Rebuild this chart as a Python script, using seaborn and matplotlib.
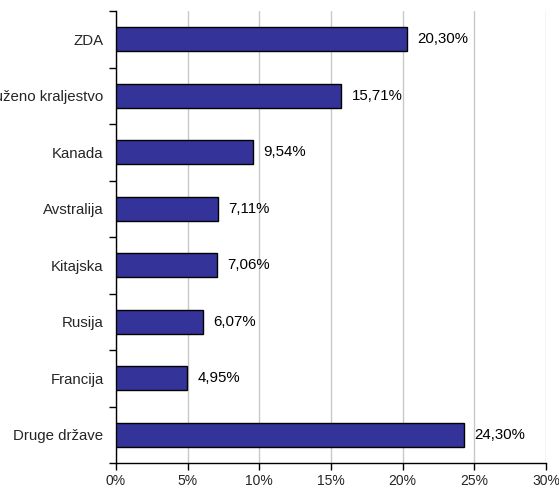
import matplotlib
matplotlib.use("Agg")
import matplotlib.pyplot as plt
import seaborn as sns
import pandas as pd
import numpy as np
from matplotlib.ticker import FixedLocator

countries = ["ZDA", "Združeno kraljestvo", "Kanada", "Avstralija", "Kitajska",
             "Rusija", "Francija", "Druge države"]
shares = [20.30, 15.71, 9.54, 7.11, 7.06, 6.07, 4.95, 24.30]
share_labels = ["20,30%", "15,71%", "9,54%", "7,11%", "7,06%", "6,07%", "4,95%", "24,30%"]
x_ticks = [0, 5, 10, 15, 20, 25, 30]
x_tick_labels = ["0%", "5%", "10%", "15%", "20%", "25%", "30%"]

df = pd.DataFrame({"country": countries, "share": shares})

sns.set_theme(style="white")
plt.rcParams["font.family"] = ["Liberation Sans", "DejaVu Sans"]

fig = plt.figure(figsize=(5.59, 4.88), dpi=100)
ax = fig.add_axes([116 / 559, 25 / 488, 430 / 559, 452 / 488])

sns.barplot(data=df, y="country", x="share", orient="h", color="#333399",
            saturation=1, width=0.42, edgecolor="black", linewidth=1.0, ax=ax, zorder=3)

ax.set_xlim(0, 30)
ax.set_ylim(len(countries) - 0.5, -0.5)
ax.set_xticks(x_ticks)
ax.set_xticklabels(x_tick_labels, fontsize=10)
ax.xaxis.grid(True, color="#c8c8c8", linewidth=1.0, zorder=0)
ax.yaxis.grid(False)
ax.set_axisbelow(True)

# category labels centred on bars, tick marks on category boundaries
ax.set_yticks(np.arange(len(countries)))
ax.set_yticklabels(countries, fontsize=10.8)
ax.tick_params(axis="y", which="major", length=0, pad=9)
ax.yaxis.set_minor_locator(FixedLocator(np.arange(-0.5, len(countries), 1.0)))
ax.tick_params(axis="y", which="minor", length=5, width=1, color="black", left=True)
ax.tick_params(axis="x", which="major", length=5, width=1, color="black", bottom=True, pad=3)

for side in ["top", "right"]:
    ax.spines[side].set_visible(False)
for side in ["left", "bottom"]:
    ax.spines[side].set_color("black")
    ax.spines[side].set_linewidth(1.0)

ax.set_xlabel("")
ax.set_ylabel("")

for i, (v, lab) in enumerate(zip(shares, share_labels)):
    ax.annotate(lab, xy=(v, i), xytext=(7.5, 0), textcoords="offset points",
                va="center", ha="left", fontsize=10.8, color="black")

fig.savefig("out.png", dpi=100)
